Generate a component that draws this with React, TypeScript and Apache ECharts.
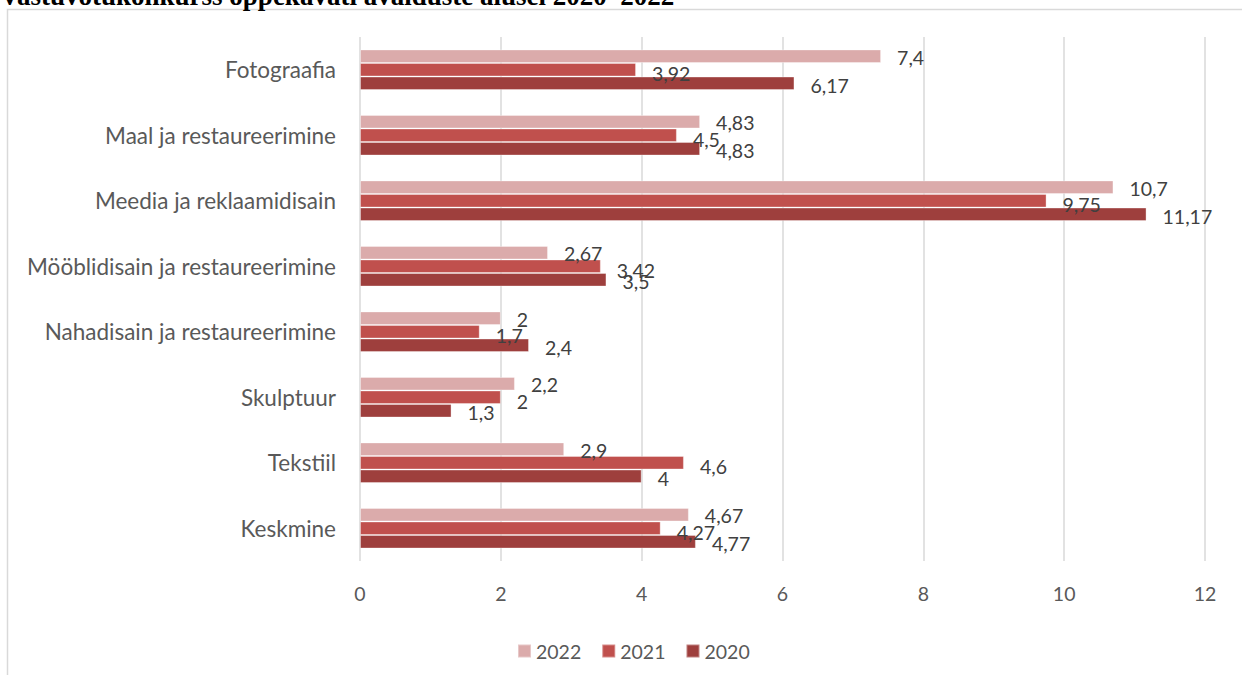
import React, { useEffect, useRef } from "react";
import * as echarts from "echarts";

const categories = [
  "Fotograafia",
  "Maal ja restaureerimine",
  "Meedia ja reklaamidisain",
  "Mööblidisain ja restaureerimine",
  "Nahadisain ja restaureerimine",
  "Skulptuur",
  "Tekstiil",
  "Keskmine",
];
const values2022 = [7.4, 4.83, 10.7, 2.67, 2, 2.2, 2.9, 4.67];
const values2021 = [3.92, 4.5, 9.75, 3.42, 1.7, 2, 4.6, 4.27];
const values2020 = [6.17, 4.83, 11.17, 3.5, 2.4, 1.3, 4, 4.77];
const seriesNames = ["2022", "2021", "2020"];
const xTicks = { min: 0, max: 12, interval: 2 };
const titleText = "Vastuvõtukonkurss õppekavati avalduste alusel 2020–2022";

const FONT = "Lato, 'Open Sans', sans-serif";

export default function App() {
  const ref = useRef<HTMLDivElement>(null);
  useEffect(() => {
    if (!ref.current) return;
    const chart = echarts.init(ref.current, undefined, { renderer: "svg" });
    const colors = ["#DBABAB", "#C0504D", "#9E3F3D"];
    const data = [values2022, values2021, values2020];
    const offsets = [[0, 1], [0, 4], [0, 2]];
    chart.setOption({
      animation: false,
      textStyle: { fontFamily: FONT },
      graphic: [
        {
          type: "rect",
          shape: { x: 7.5, y: 9.5, width: 1300, height: 700 },
          style: { fill: "none", stroke: "#d9d9d9", lineWidth: 1.5 },
          silent: true,
        },
        {
          type: "text",
          x: 0,
          y: 9,
          style: {
            text: titleText,
            font: "bold 27px 'Liberation Serif', 'Times New Roman', serif",
            fill: "#000",
            verticalAlign: "bottom",
          },
        },
      ],
      legend: {
        data: seriesNames,
        left: 512,
        top: 636,
        icon: "rect",
        itemWidth: 13,
        itemHeight: 13,
        itemGap: 20,
        textStyle: { fontSize: 19.5, color: "#595959", fontFamily: FONT },
      },
      grid: { left: 360, right: 37, top: 37, bottom: 114, containLabel: false },
      xAxis: {
        type: "value",
        min: xTicks.min,
        max: xTicks.max,
        interval: xTicks.interval,
        axisLine: { show: false },
        axisTick: { show: false },
        splitLine: { lineStyle: { color: "#d9d9d9", width: 1.5 } },
        axisLabel: { fontSize: 19.5, color: "#595959", margin: 22, fontFamily: FONT },
      },
      yAxis: {
        type: "category",
        inverse: true,
        data: categories,
        axisLine: { show: false },
        axisTick: { show: false },
        axisLabel: { fontSize: 22.5, color: "#595959", margin: 24, fontFamily: FONT },
      },
      series: seriesNames.map((name, i) => ({
        name,
        type: "bar",
        data: data[i],
        barGap: "0%",
        barCategoryGap: "38%",
        itemStyle: { color: colors[i], borderColor: "rgba(255,255,255,0.35)", borderWidth: 1 },
        label: {
          show: true,
          position: "right",
          distance: 16,
          offset: offsets[i],
          fontSize: 19.5,
          color: "#404040",
          fontFamily: FONT,
          formatter: (p: any) => String(p.value).replace(".", ","),
        },
      })),
    });
    return () => chart.dispose();
  }, []);
  return (
    <div
      ref={ref}
      style={{ position: "absolute", left: 0, top: 0, width: 1242, height: 675 }}
    />
  );
}
